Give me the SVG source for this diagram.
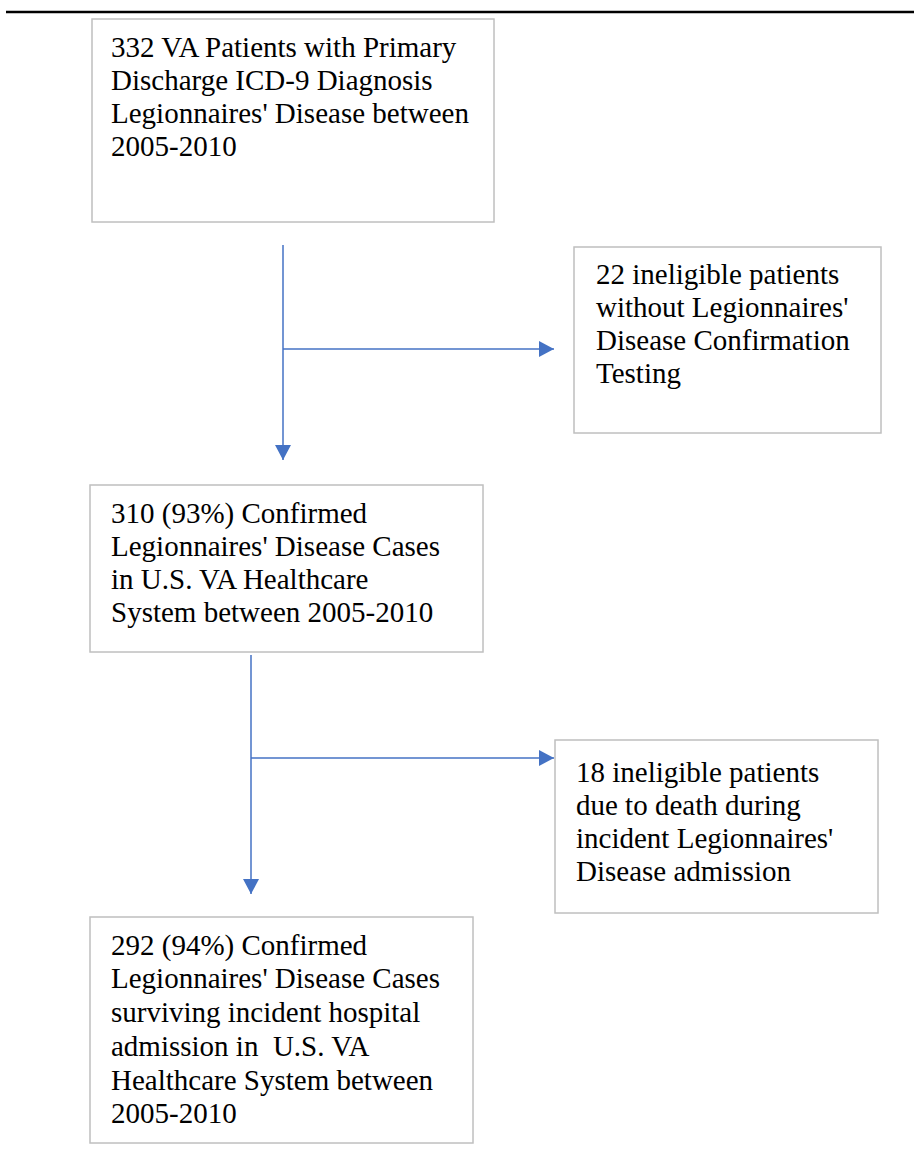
<svg xmlns="http://www.w3.org/2000/svg" width="914" height="1161" viewBox="0 0 914 1161">
<style>
.box{fill:#ffffff;stroke:#bfbfbf;stroke-width:1.5}
.t{font-family:"Liberation Serif","Times New Roman",serif;font-size:29px;fill:#000000}
.c{fill:none;stroke:#4472c4;stroke-width:1.5}
</style>
<defs>
<marker id="ah" markerUnits="userSpaceOnUse" markerWidth="16" markerHeight="16" viewBox="0 0 15 16" refX="15" refY="8" orient="auto">
<path d="M0,0 L15,8 L0,16 Z" fill="#4472c4"/>
</marker>
</defs>
<rect width="914" height="1161" fill="#ffffff"/>
<line x1="6" y1="12" x2="914" y2="12" stroke="#000000" stroke-width="2.5"/>
<g id="connectors">
<line class="c" x1="283" y1="245" x2="283" y2="460" marker-end="url(#ah)"/>
<line class="c" x1="283" y1="349" x2="554" y2="349" marker-end="url(#ah)"/>
<line class="c" x1="251" y1="655" x2="251" y2="894" marker-end="url(#ah)"/>
<line class="c" x1="251" y1="758" x2="554" y2="758" marker-end="url(#ah)"/>
</g>
<g id="n1">
<rect class="box" x="92" y="19" width="402" height="203"/>
<text class="t" x="111" y="57">332 VA Patients with Primary</text>
<text class="t" x="111" y="90">Discharge ICD-9 Diagnosis</text>
<text class="t" x="111" y="123">Legionnaires' Disease between</text>
<text class="t" x="111" y="156">2005-2010</text>
</g>
<g id="n2">
<rect class="box" x="574" y="247" width="307" height="186"/>
<text class="t" x="596" y="284">22 ineligible patients</text>
<text class="t" x="596" y="317">without Legionnaires'</text>
<text class="t" x="596" y="350">Disease Confirmation</text>
<text class="t" x="596" y="383">Testing</text>
</g>
<g id="n3">
<rect class="box" x="90" y="485" width="393" height="167"/>
<text class="t" x="111" y="523">310 (93%) Confirmed</text>
<text class="t" x="111" y="556">Legionnaires' Disease Cases</text>
<text class="t" x="111" y="589">in U.S. VA Healthcare</text>
<text class="t" x="111" y="622">System between 2005-2010</text>
</g>
<g id="n4">
<rect class="box" x="555" y="740" width="323" height="173"/>
<text class="t" x="576" y="782">18 ineligible patients</text>
<text class="t" x="576" y="815">due to death during</text>
<text class="t" x="576" y="848">incident Legionnaires'</text>
<text class="t" x="576" y="881">Disease admission</text>
</g>
<g id="n5">
<rect class="box" x="90" y="917" width="383" height="226"/>
<text class="t" x="111" y="955">292 (94%) Confirmed</text>
<text class="t" x="111" y="988">Legionnaires' Disease Cases</text>
<text class="t" x="111" y="1022">surviving incident hospital</text>
<text class="t" x="111" y="1056" xml:space="preserve">admission in  U.S. VA</text>
<text class="t" x="111" y="1090">Healthcare System between</text>
<text class="t" x="111" y="1123">2005-2010</text>
</g>
</svg>
